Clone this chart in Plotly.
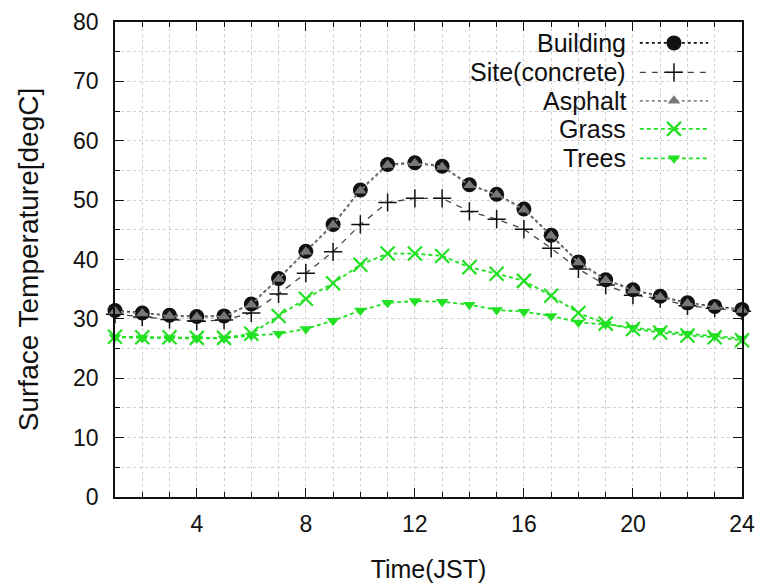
import plotly.graph_objects as go

hours = list(range(1, 25))
building = [31.4, 31.0, 30.6, 30.4, 30.5, 32.5, 36.8, 41.4, 45.9, 51.7, 56.0, 56.3,
            55.7, 52.6, 51.0, 48.5, 44.1, 39.6, 36.6, 34.9, 33.8, 32.7, 32.1, 31.6]
site = [30.8, 30.3, 29.9, 29.6, 29.8, 31.0, 34.2, 37.7, 41.3, 45.9, 49.6, 50.3,
        50.3, 48.1, 46.8, 45.1, 41.9, 38.4, 35.7, 34.0, 33.4, 32.2, 31.8, 31.3]
asphalt = [31.3, 30.9, 30.5, 30.3, 30.4, 32.4, 36.7, 41.3, 45.8, 51.6, 55.9, 56.2,
           55.6, 52.5, 50.9, 48.4, 44.0, 39.5, 36.5, 34.8, 33.7, 32.6, 32.0, 31.5]
grass = [27.0, 26.9, 26.9, 26.8, 26.8, 27.5, 30.5, 33.4, 36.0, 39.1, 41.0, 41.0,
         40.6, 38.7, 37.6, 36.4, 33.9, 31.0, 29.2, 28.3, 27.7, 27.2, 26.9, 26.4]
trees = [26.9, 26.8, 26.8, 26.7, 26.7, 27.2, 27.5, 28.3, 29.7, 31.4, 32.7, 33.0,
         32.9, 32.4, 31.5, 31.2, 30.5, 29.4, 29.1, 28.5, 28.0, 27.5, 27.1, 26.7]

series_names = ["Building", "Site(concrete)", "Asphalt", "Grass", "Trees"]
x_tick_vals = [4, 8, 12, 16, 20, 24]
y_tick_vals = [0, 10, 20, 30, 40, 50, 60, 70, 80]

GREEN = "#22e022"
styles = {
    "Building": dict(line=dict(color="#111111", width=1.6, dash="dot"),
                     marker=dict(symbol="circle", size=15, color="#111111")),
    "Site(concrete)": dict(line=dict(color="#444444", width=1.3, dash="6px,6px"),
                           marker=dict(symbol="cross-thin", size=13,
                                       line=dict(color="#111111", width=1.5))),
    "Asphalt": dict(line=dict(color="#888888", width=1.6, dash="dot"),
                    marker=dict(symbol="triangle-up", size=11, color="#777777")),
    "Grass": dict(line=dict(color=GREEN, width=1.8, dash="4px,3px"),
                  marker=dict(symbol="x-thin", size=14,
                              line=dict(color=GREEN, width=2.2))),
    "Trees": dict(line=dict(color=GREEN, width=1.8, dash="4px,3px"),
                  marker=dict(symbol="triangle-down", size=11, color=GREEN)),
}
data = {"Building": building, "Site(concrete)": site, "Asphalt": asphalt,
        "Grass": grass, "Trees": trees}

fig = go.Figure()
for name in ["Trees", "Grass", "Site(concrete)", "Building", "Asphalt"]:
    s = styles[name]
    fig.add_trace(go.Scatter(x=hours, y=data[name], mode="lines+markers", name=name,
                             line=s["line"], marker=s["marker"], showlegend=False,
                             cliponaxis=False))

# manual gnuplot-style legend (text left, sample right) on an overlay axis
leg_y = [0.956, 0.894, 0.834, 0.775, 0.713]
for name, yy in zip(series_names, leg_y):
    s = styles[name]
    fig.add_trace(go.Scatter(x=[0.837, 0.946], y=[yy, yy], mode="lines",
                             line=s["line"], xaxis="x2", yaxis="y2",
                             showlegend=False, hoverinfo="skip"))
    fig.add_trace(go.Scatter(x=[0.8915], y=[yy], mode="markers",
                             marker=s["marker"], xaxis="x2", yaxis="y2",
                             showlegend=False, hoverinfo="skip"))
    fig.add_annotation(x=0.818, y=yy, xref="x2", yref="y2", text=name,
                       showarrow=False, xanchor="right", yanchor="middle",
                       font=dict(size=25, color="#111111"))

gridcol = "#cfcfcf"
fig.update_layout(
    width=756, height=575,
    margin=dict(l=107, r=22, t=14, b=86),
    paper_bgcolor="white", plot_bgcolor="white",
    font=dict(family="Liberation Sans, Arial, sans-serif", size=23, color="#111111"),
    xaxis=dict(range=[1, 24], tickvals=x_tick_vals, ticks="inside", ticklen=9,
               tickcolor="#111111", showline=True, linecolor="#111111", linewidth=1.5,
               mirror="allticks", zeroline=False, automargin=False,
               ticklabeloverflow="allow",
               showgrid=True, gridcolor=gridcol, griddash="dot",
               minor=dict(dtick=1, ticks="inside", ticklen=5, tickcolor="#111111",
                          showgrid=True, gridcolor=gridcol, griddash="dot"),
               title=dict(text="Time(JST)", font=dict(size=25), standoff=24),
               tickfont=dict(size=23), ticklabelstandoff=6),
    yaxis=dict(range=[0, 80], tickvals=y_tick_vals, ticks="inside", ticklen=9,
               tickcolor="#111111", showline=True, linecolor="#111111", linewidth=1.5,
               mirror="allticks", zeroline=False, automargin=False,
               ticklabeloverflow="allow",
               showgrid=True, gridcolor=gridcol, griddash="dot",
               minor=dict(dtick=5, ticks="inside", ticklen=5, tickcolor="#111111",
                          showgrid=True, gridcolor=gridcol, griddash="dot"),
               title=dict(text="Surface Temperature[degC]", font=dict(size=28), standoff=26),
               tickfont=dict(size=23), ticklabelstandoff=10),
    xaxis2=dict(range=[0, 1], overlaying="x", visible=False, fixedrange=True),
    yaxis2=dict(range=[0, 1], overlaying="y", visible=False, fixedrange=True),
)

fig.write_html("out.html")
